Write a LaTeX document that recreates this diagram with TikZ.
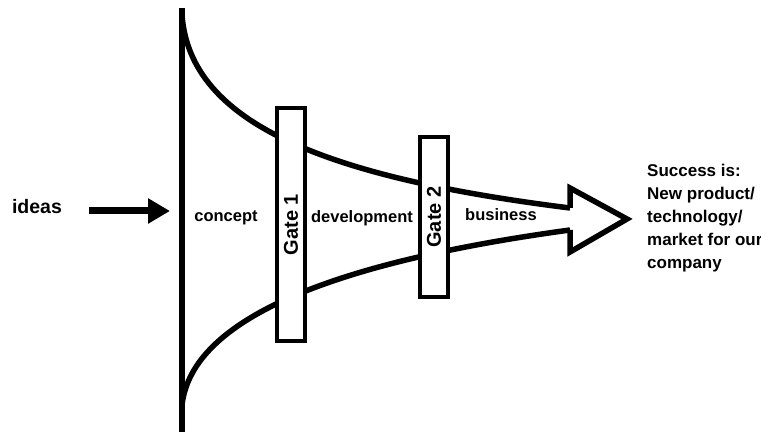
\documentclass[tikz,border=0pt]{standalone}
\usepackage{fontspec}
\setmainfont{Liberation Sans}
\usepackage{tikz}
\usetikzlibrary{arrows.meta}

\tikzset{
  funnel/.style={line width=5.5pt,line join=miter},
  gatebox/.style={draw,line width=4pt,fill=white,rotate=90,minimum height=28pt,inner sep=0pt,font=\fontsize{20}{24}\selectfont\bfseries},
  stage/.style={font=\fontsize{16.5}{20}\selectfont\bfseries,inner sep=0pt}
}

\begin{document}
\begin{tikzpicture}[x=1pt,y=-1pt]
\useasboundingbox (0,0) rectangle (761,435);
% funnel mouth
\draw[funnel] (182,8) -- (182,432);
\draw[funnel] (182,15) .. controls (190,125) and (330,178) .. (570,208);
\draw[funnel] (182,405) .. controls (192,318) and (335,262) .. (570,230);
% open arrow head
\draw[funnel] (570,208) -- (570,188) -- (627,219) -- (570,252) -- (570,230);
% gates
\node[gatebox,minimum width=233pt] (gate1) at (291,224.5) {Gate 1};
\node[gatebox,minimum width=160pt] (gate2) at (434,217) {Gate 2};
% labels
\node[font=\fontsize{19.5}{24}\selectfont\bfseries,inner sep=0pt] (ideas) at (37,207) {ideas};
\coordinate (mouth) at (170,211);
\draw[line width=7pt,-{Triangle[length=22pt,width=24pt]}] (89,211) -- (mouth);
\node[stage] (concept) at (226,218) {concept};
\node[stage] (develop) at (362,218) {development};
\node[stage] (business) at (501,215) {business};
\node[stage,font=\fontsize{17}{23}\selectfont\bfseries,align=left,anchor=west] (success) at (647,218)
  {Success is:\\New product/\\technology/\\market for our\\company};
\end{tikzpicture}
\end{document}
